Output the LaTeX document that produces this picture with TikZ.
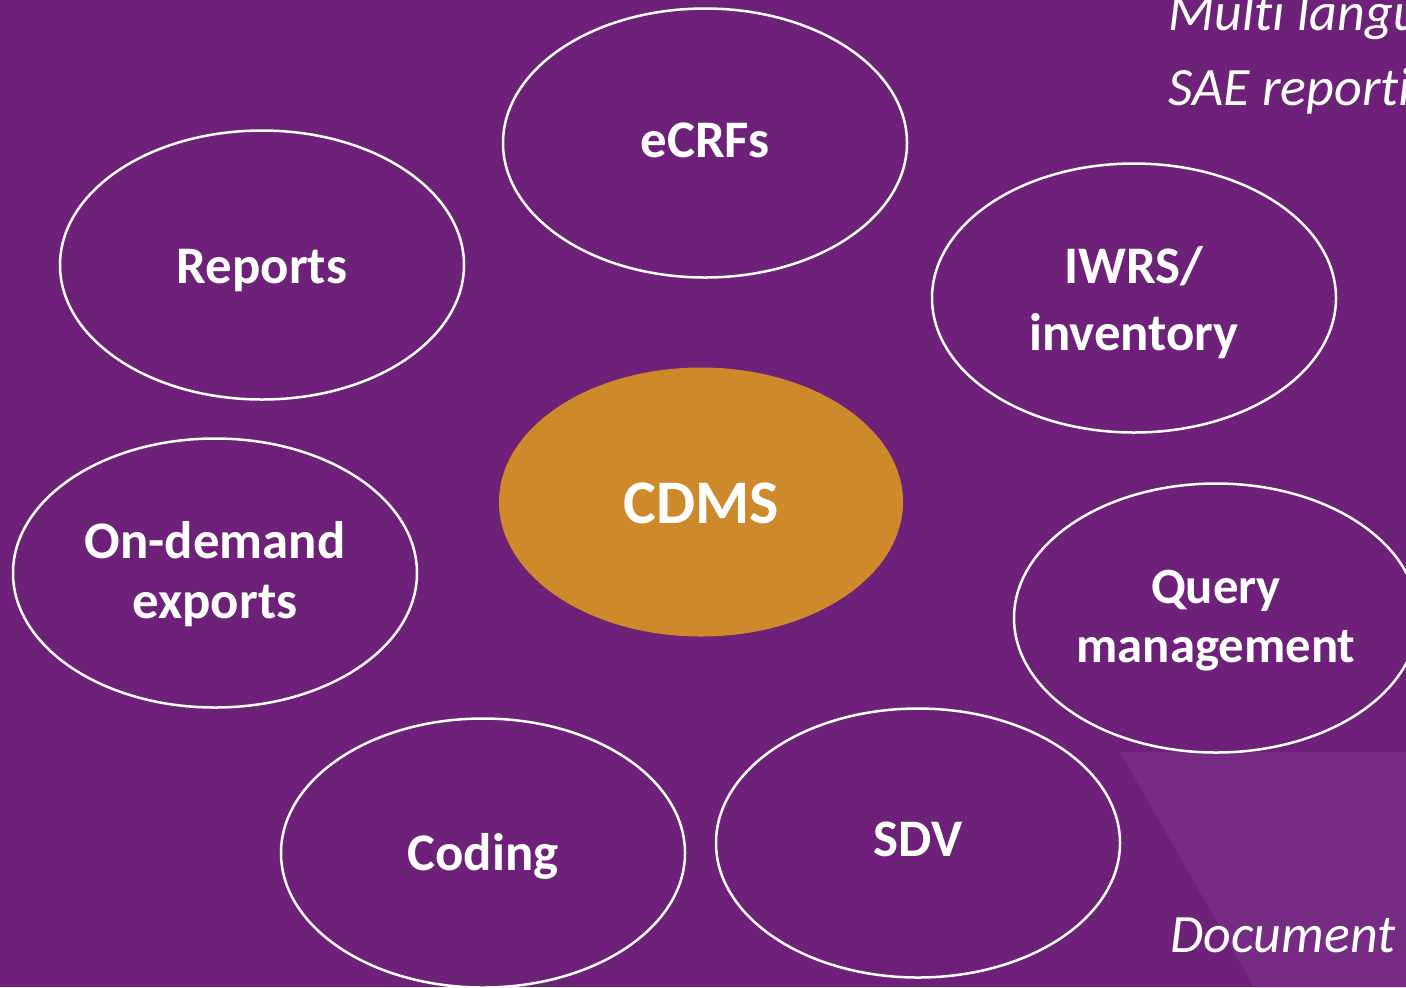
\documentclass[tikz,border=0pt]{standalone}
\usepackage{fontspec}
\setmainfont{Carlito}
\usetikzlibrary{shapes.geometric}
\definecolor{bgpurple}{HTML}{6E2178}
\definecolor{lightpurple}{HTML}{762C82}
\definecolor{cdmsorange}{HTML}{CE8A2A}
\newcommand{\twoline}[3][0pt]{\begin{tabular}[t]{@{}c@{}}#2\\[#1]#3\end{tabular}}
\tikzset{
  bubble/.style={ellipse, draw=white, line width=1.25pt, minimum width=202pt, minimum height=134.5pt, inner sep=0pt, text=white, font=\bfseries\fontsize{26.4}{30}\selectfont},
  hub/.style={bubble, draw=none, fill=cdmsorange, font=\bfseries\fontsize{31}{36}\selectfont},
  sidetext/.style={anchor=base west, text=white, inner sep=0pt, font=\itshape\fontsize{27}{32}\selectfont}
}
\begin{document}
\begin{tikzpicture}[x=0.5pt,y=-0.5pt]
\useasboundingbox (0,0) rectangle (1406,987);
\clip (0,0) rectangle (1406,987);
\fill[bgpurple] (0,0) rectangle (1406,987);
\fill[lightpurple] (1120,752) -- (1406,752) -- (1406,987) -- (1254,987) -- cycle;
\node[bubble, text height=14pt, text depth=0pt] (ecrf) at (705,143) {eCRFs};
\node[bubble, text height=18pt, text depth=0pt] (reports) at (262,265) {Reports};
\node[bubble, text height=0pt, text depth=15pt] (iwrs) at (1134,298) {\twoline[3.5pt]{IWRS/}{inventory}};
\node[hub, text height=21pt, text depth=0pt] (cdms) at (701,502) {CDMS};
\node[bubble, text height=0pt, text depth=15pt] (export) at (215,573) {\twoline{On-demand}{exports}};
\node[bubble, text height=0pt, text depth=15pt, font=\bfseries\fontsize{25.4}{30}\selectfont] (query) at (1216,618) {\twoline[-0.5pt]{Query}{management}};
\node[bubble, text height=17pt, text depth=0pt] (coding) at (483,853) {Coding};
\node[bubble, text height=13pt, text depth=0pt] (sdv) at (918,843) {SDV};
\node[sidetext] (multi) at (1168,30) {Mult\kern0pt i langu};
\node[sidetext] (sae) at (1168,105) {SAE report\kern0pt i};
\node[sidetext] (doc) at (1170,952) {Document};
\end{tikzpicture}
\end{document}
